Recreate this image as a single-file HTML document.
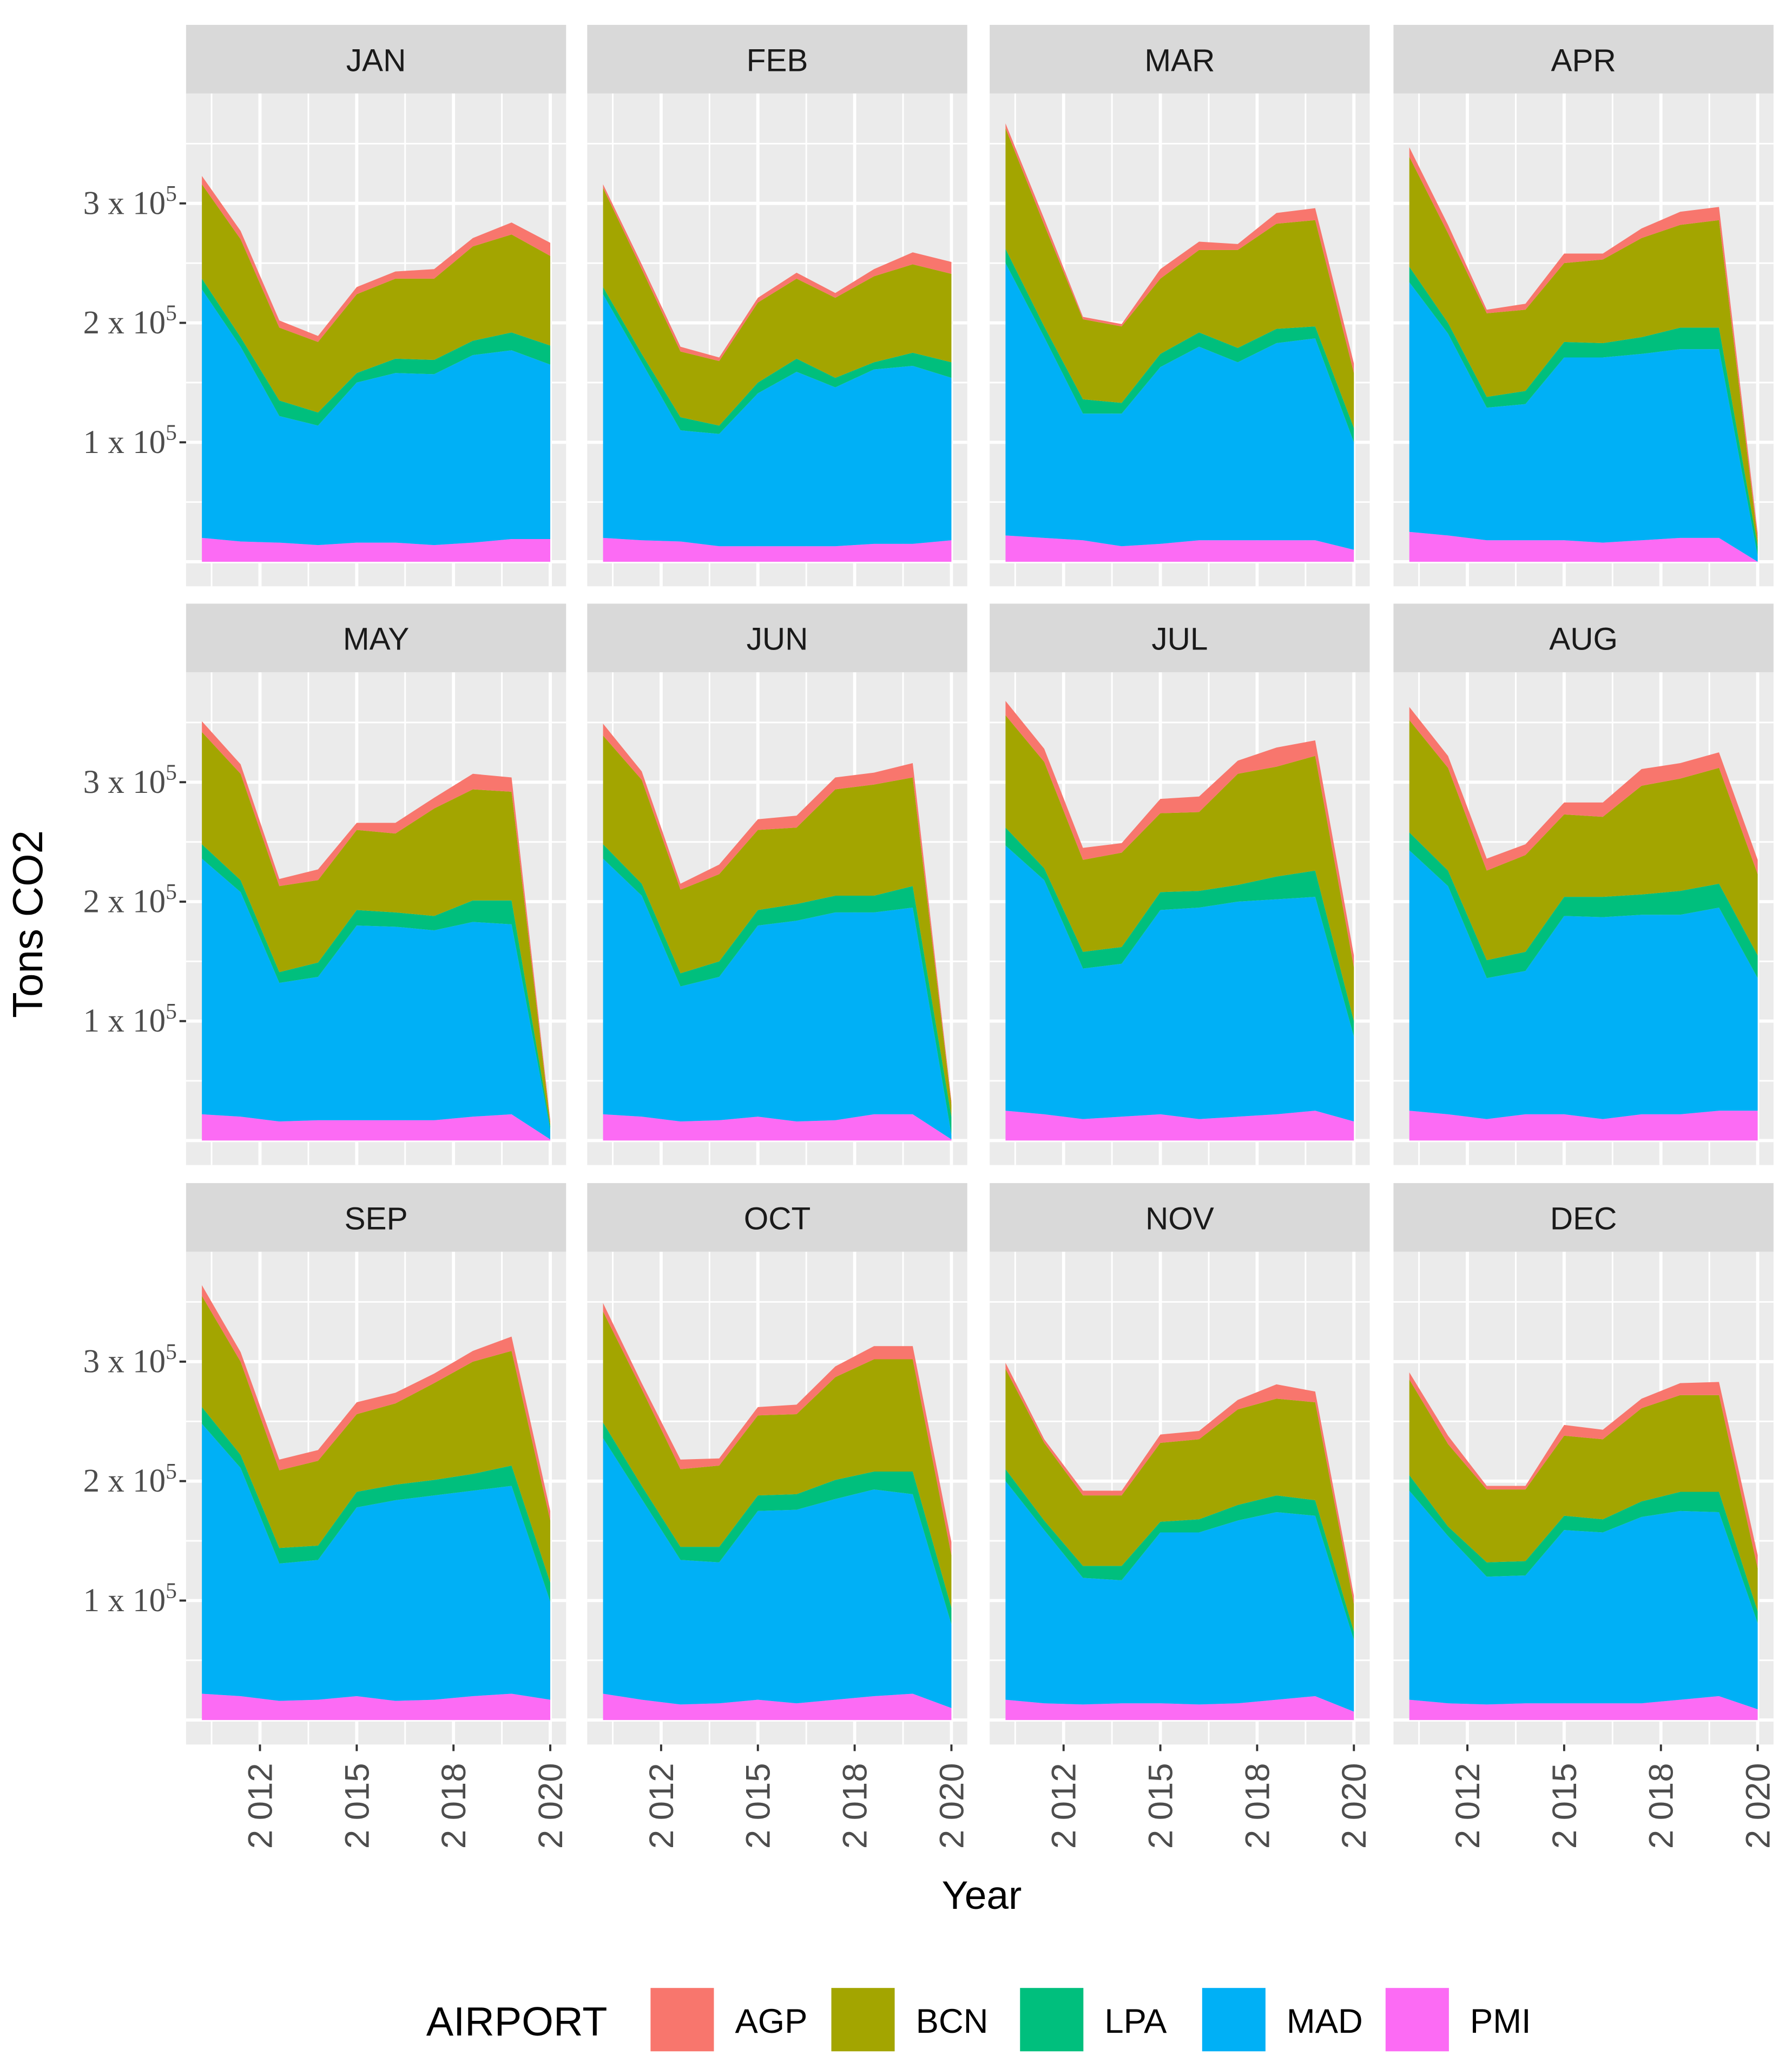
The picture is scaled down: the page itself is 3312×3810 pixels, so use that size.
<!DOCTYPE html>
<html><head><meta charset="utf-8"><style>
html,body{margin:0;padding:0;background:#fff;}
svg{display:block;}
</style></head><body>
<svg id="chart" xmlns="http://www.w3.org/2000/svg" width="3312" height="3810" viewBox="0 0 1358 1562">
<rect x="0" y="0" width="1358" height="1562" fill="#ffffff"/>
<g id="panels"></g>
<text x="32" y="700" transform="rotate(-90 32 700)" text-anchor="middle" font-family="Liberation Sans, sans-serif" font-size="32" fill="#000">Tons CO2</text>
<text x="744" y="1446" text-anchor="middle" font-family="Liberation Sans, sans-serif" font-size="30" fill="#000">Year</text>
<g id="legend">
<text x="323" y="1542" font-family="Liberation Sans, sans-serif" font-size="31" fill="#000">AIRPORT</text>
</g>
</svg>
<script>
const months = ["JAN","FEB","MAR","APR","MAY","JUN","JUL","AUG","SEP","OCT","NOV","DEC"];
const years = [2011,2012,2013,2014,2015,2016,2017,2018,2019,2020];
const airports = ["AGP","BCN","LPA","MAD","PMI"];
const colors = {AGP:"#F8766D",BCN:"#A3A500",LPA:"#00BF7D",MAD:"#00B0F6",PMI:"#FC6BF4"};
const xTickIdx = [1.5,4,6.5,9];
const xTickLabels = ["2 012","2 015","2 018","2 020"];
const yTicks = [100000,200000,300000];
const yTickLabels = ["1","2","3"];
// values in thousand tons CO2, per month (rows) x year index (cols)
const PMI = [
[20,17,16,14,16,16,14,16,19,19],
[20,18,17,13,13,13,13,15,15,18],
[22,20,18,13,15,18,18,18,18,10],
[25,22,18,18,18,16,18,20,20,0],
[22,20,16,17,17,17,17,20,22,1],
[22,20,16,17,20,16,17,22,22,1],
[25,22,18,20,22,18,20,22,25,16],
[25,22,18,22,22,18,22,22,25,25],
[22,20,16,17,20,16,17,20,22,17],
[22,17,13,14,17,14,17,20,22,10],
[17,14,13,14,14,13,14,17,20,7],
[17,14,13,14,14,14,14,17,20,9]];
const MAD = [
[208,163,106,100,134,142,143,157,158,146],
[204,149,93,94,128,146,133,146,149,136],
[228,168,106,111,148,162,149,165,169,90],
[209,169,111,114,153,155,156,158,158,5],
[214,188,116,120,163,162,159,163,159,8],
[214,185,113,120,160,168,174,169,173,4],
[222,196,126,128,171,177,180,180,179,71],
[218,191,118,120,166,169,167,167,170,111],
[226,191,115,117,158,168,171,172,174,82],
[214,168,121,118,158,162,168,173,167,70],
[183,145,106,103,143,144,153,157,151,60],
[175,140,107,107,145,143,156,158,154,72]];
const LPA = [
[9,8,13,11,8,12,12,12,15,16],
[6,7,11,7,9,11,8,6,11,13],
[12,9,12,9,11,12,12,12,10,12],
[13,9,9,11,13,12,14,18,18,8],
[12,10,9,12,13,12,12,18,20,3],
[12,10,11,13,13,14,14,14,18,15],
[15,10,14,14,15,14,14,19,22,13],
[15,13,15,16,16,17,17,20,20,19],
[14,11,13,12,13,13,13,14,17,16],
[13,11,11,13,13,13,16,15,19,14],
[10,8,10,12,9,11,13,14,13,7],
[13,8,12,12,12,11,13,16,17,10]];
const BCN = [
[79,82,61,59,66,67,68,79,82,75],
[83,71,55,54,67,67,67,72,74,74],
[101,85,67,64,63,69,82,88,89,46],
[92,75,70,68,66,70,83,86,90,5],
[94,89,72,69,67,66,90,93,91,2],
[91,87,70,73,67,64,89,93,91,10],
[94,89,77,79,66,66,93,92,96,45],
[94,86,75,81,69,67,91,94,97,68],
[93,78,65,71,65,68,81,94,96,52],
[93,81,65,68,67,67,86,94,94,44],
[84,65,59,59,66,67,80,81,82,23],
[80,69,61,60,67,67,78,81,81,36]];
const AGP = [
[7,7,6,5,6,6,8,7,10,11],
[3,4,4,3,4,5,4,6,10,10],
[4,5,2,2,8,7,5,9,10,8],
[8,7,3,5,8,5,8,11,11,6],
[9,8,6,9,6,9,9,13,12,3],
[10,7,5,8,9,10,10,10,12,3],
[12,11,10,8,12,13,11,16,13,10],
[11,10,10,9,10,12,14,13,13,12],
[9,8,9,9,10,9,8,9,12,8],
[7,5,8,6,7,8,9,11,11,11],
[5,3,4,4,7,7,8,12,9,7],
[6,7,3,3,9,8,8,10,11,11]];

const NS = "http://www.w3.org/2000/svg";
const series = {AGP, BCN, LPA, MAD, PMI};
const stackOrder = ["PMI","MAD","LPA","BCN","AGP"];
const colLeft = [141,445,750,1056];
const rowZero = [425.5,864,1303];
const panelW = 288, dataOff = 12, dataW = 264;
const yPx = 0.905; // px per thousand
const yMin = -20.5, yMax = 392;
function mk(tag, attrs, parent){const e=document.createElementNS(NS,tag);for(const k in attrs)e.setAttribute(k,attrs[k]);parent.appendChild(e);return e;}
function xScale(col, idx){return colLeft[col]+dataOff+idx*dataW/(years.length-1);}
function yScale(row, v){return rowZero[row]-v*yPx;}
const root = document.getElementById("panels");
months.forEach((m, mi) => {
  const col = mi % 4, row = Math.floor(mi / 4);
  const g = mk("g", {}, root);
  
  
  const top = yScale(row, yMax), bot = yScale(row, yMin);
  const bg = mk("rect", {x:colLeft[col], y:top, width:panelW, height:bot-top, fill:"#ebebeb"}, g);
  
  
  const strip = mk("rect", {x:colLeft[col], y:top-52, width:panelW, height:52, fill:"#d9d9d9"}, g);
  
  
  const st = mk("text", {x:colLeft[col]+panelW/2, y:top-17, "text-anchor":"middle", "font-family":"Liberation Sans, sans-serif", "font-size":"24", fill:"#1a1a1a"}, g);
  st.textContent = m;
  
  
  const minorY = [0.5,1.5,2.5,3.5].map(v=>v*100);
  minorY.forEach(v => {
    const l = mk("line", {x1:colLeft[col], x2:colLeft[col]+panelW, y1:yScale(row,v), y2:yScale(row,v), stroke:"#fff", "stroke-width":"1.2"}, g);
    
    
  });
  [0].concat(yTicks.map(v=>v/1000)).forEach(v => {
    const l = mk("line", {x1:colLeft[col], x2:colLeft[col]+panelW, y1:yScale(row,v), y2:yScale(row,v), stroke:"#fff", "stroke-width":"2.4"}, g);
    
    
  });
  const minorX = [];
  for (let i = 0; i < xTickIdx.length; i++) minorX.push(xTickIdx[i] - 1.25);
  minorX.forEach(ix => {
    const l = mk("line", {x1:xScale(col,ix), x2:xScale(col,ix), y1:top, y2:bot, stroke:"#fff", "stroke-width":"1.2"}, g);
    
    
  });
  xTickIdx.forEach(ix => {
    const l = mk("line", {x1:xScale(col,ix), x2:xScale(col,ix), y1:top, y2:bot, stroke:"#fff", "stroke-width":"2.4"}, g);
    
    
  });
  const base = years.map(() => 0);
  stackOrder.forEach(a => {
    const vals = series[a][mi];
    const upper = vals.map((v, i) => base[i] + v);
    let d = "";
    upper.forEach((v, i) => { d += (i ? "L" : "M") + xScale(col,i).toFixed(2) + "," + yScale(row,v).toFixed(2); });
    for (let i = years.length - 1; i >= 0; i--) d += "L" + xScale(col,i).toFixed(2) + "," + yScale(row,base[i]).toFixed(2);
    d += "Z";
    const p = mk("path", {d:d, fill:colors[a]}, g);
    
    
    upper.forEach((v, i) => base[i] = v);
  });
  if (col === 0) {
    yTicks.forEach((v, ti) => {
      const y = yScale(row, v/1000);
      const t = mk("line", {x1:colLeft[col]-5, x2:colLeft[col], y1:y, y2:y, stroke:"#333", "stroke-width":"1.6"}, g);
      
      
      const tx = mk("text", {x:colLeft[col]-7, y:y+8, "text-anchor":"end", "font-family":"Liberation Serif, serif", "font-size":"25", fill:"#4d4d4d"}, g);
      
      
      tx.appendChild(document.createTextNode(yTickLabels[ti] + " x 10"));
      const sup = mk("tspan", {dy:"-10", "font-size":"17"}, tx);
      sup.textContent = "5";
      const sp = mk("tspan", {dy:"10", "font-size":"17"}, tx);
      sp.textContent = "\u200b";
    });
  }
  if (row === 2) {
    xTickIdx.forEach((ix, ti) => {
      const x = xScale(col, ix);
      const t = mk("line", {x1:x, x2:x, y1:bot, y2:bot+5, stroke:"#333", "stroke-width":"1.6"}, g);
      
      
      const ty = bot + 14;
      const tx = mk("text", {x:x+9, y:ty, transform:"rotate(-90 " + (x+9) + " " + ty + ")", "text-anchor":"end", "font-family":"Liberation Sans, sans-serif", "font-size":"26", fill:"#4d4d4d"}, g);
      tx.textContent = xTickLabels[ti];
      
      
    });
  }
});
const legend = document.getElementById("legend");
const keyX = [493,630,773,911,1050];
airports.forEach((a, i) => {
  const r = mk("rect", {x:keyX[i], y:1506, width:48, height:48, fill:colors[a]}, legend);
  
  
  const t = mk("text", {x:keyX[i]+64, y:1540, "font-family":"Liberation Sans, sans-serif", "font-size":"26", fill:"#000"}, legend);
  t.textContent = a;
  
  
});
</script>
</body></html>
